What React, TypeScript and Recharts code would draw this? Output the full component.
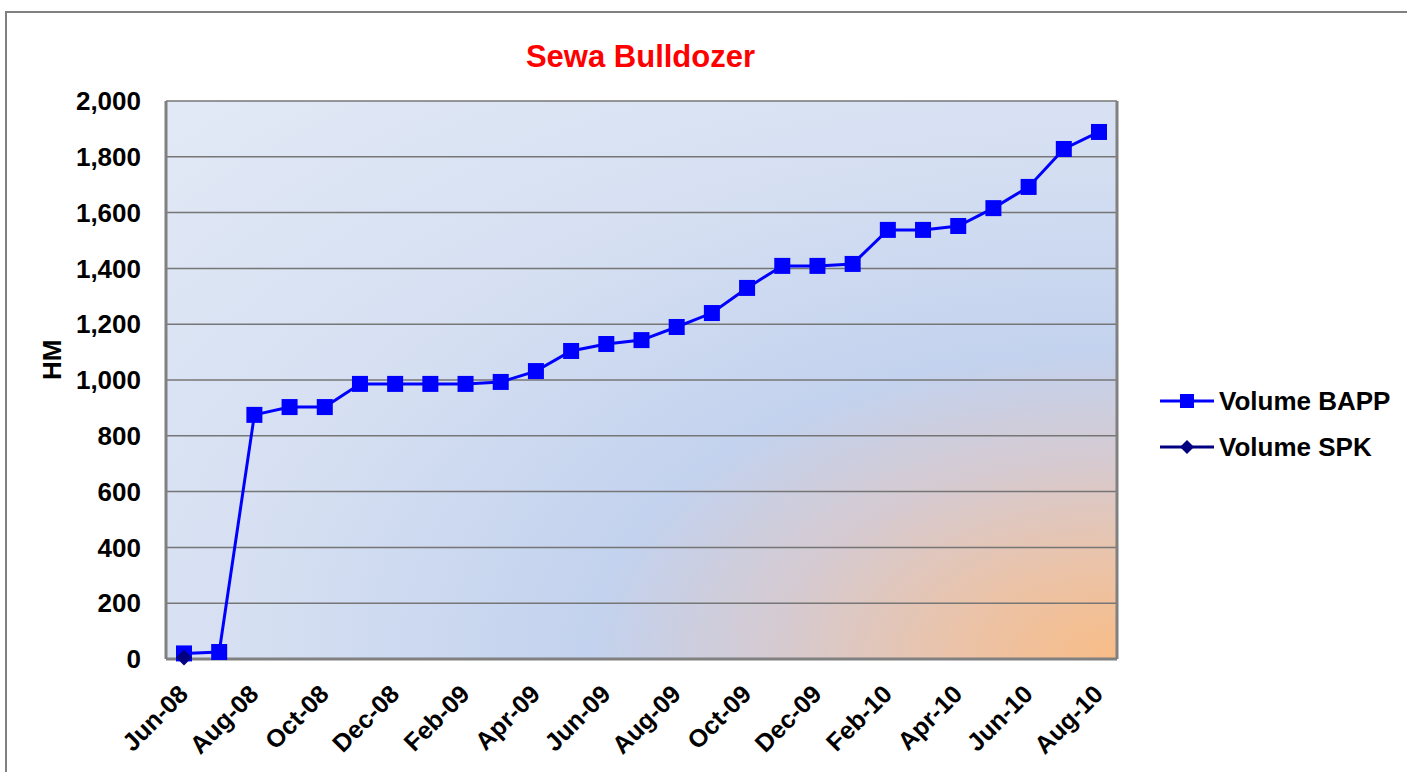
import React from "react";
import { LineChart, Line, XAxis, YAxis, CartesianGrid } from "recharts";

// ===== data =====
const months = [
  "Jun-08", "Jul-08", "Aug-08", "Sep-08", "Oct-08", "Nov-08", "Dec-08",
  "Jan-09", "Feb-09", "Mar-09", "Apr-09", "May-09", "Jun-09", "Jul-09",
  "Aug-09", "Sep-09", "Oct-09", "Nov-09", "Dec-09", "Jan-10", "Feb-10",
  "Mar-10", "Apr-10", "May-10", "Jun-10", "Jul-10", "Aug-10",
];

const volumeBapp = [
  20, 25, 875, 903, 903, 986, 986, 986, 986, 993, 1032, 1104, 1129, 1143,
  1190, 1240, 1330, 1409, 1409, 1416, 1538, 1538, 1552, 1616, 1692, 1828, 1889,
];

const volumeSpk: (number | null)[] = [
  5, null, null, null, null, null, null, null, null, null, null, null, null,
  null, null, null, null, null, null, null, null, null, null, null, null, null, null,
];

const yTicks = [0, 200, 400, 600, 800, 1000, 1200, 1400, 1600, 1800, 2000];

const seriesNames = ["Volume BAPP", "Volume SPK"];

// ===== helpers =====
const FONT = "'Liberation Sans', Arial, sans-serif";
const BLUE = "#0000ff";
const NAVY = "#000080";
const FRAME = "#808080";

const data = months.map((m, i) => ({
  month: m,
  bapp: volumeBapp[i],
  spk: volumeSpk[i],
}));

const SquareDot = (props: any) => {
  const { cx, cy, value, index } = props;
  if (value == null || cx == null) return <g key={`s${index}`} />;
  return (
    <rect key={`s${index}`} x={cx - 8} y={cy - 8} width={16} height={16} fill={BLUE} />
  );
};

const DiamondDot = (props: any) => {
  const { cx, cy, value, index } = props;
  if (value == null || cx == null) return <g key={`d${index}`} />;
  return (
    <polygon
      key={`d${index}`}
      points={`${cx},${cy - 8} ${cx + 8},${cy} ${cx},${cy + 8} ${cx - 8},${cy}`}
      fill={NAVY}
    />
  );
};

const XTick = (props: any) => {
  const { x, y, payload } = props;
  return (
    <text
      x={0}
      y={0}
      transform={`translate(${x + 1},${y + 30}) rotate(-45)`}
      textAnchor="end"
      dominantBaseline="middle"
      fontFamily={FONT}
      fontWeight="bold"
      fontSize={25}
      fill="#000"
    >
      {payload.value}
    </text>
  );
};

const LegendBox = () => (
  <div
    style={{
      position: "absolute",
      left: 1158,
      top: 378,
      fontFamily: FONT,
      fontWeight: "bold",
      fontSize: 26,
    }}
  >
    {seriesNames.map((name, i) => (
      <div key={name} style={{ display: "flex", alignItems: "center", height: 46 }}>
        <svg width={58} height={20}>
          <line x1={2} x2={56} y1={10} y2={10} stroke={i === 0 ? BLUE : NAVY} strokeWidth={3} />
          {i === 0 ? (
            <rect x={22} y={3} width={14} height={14} fill={BLUE} />
          ) : (
            <polygon points="29,3 36,10 29,17 22,10" fill={NAVY} />
          )}
        </svg>
        <span style={{ marginLeft: 3 }}>{name}</span>
      </div>
    ))}
  </div>
);

// ===== component =====
export default function App() {
  return (
    <div
      style={{
        position: "absolute",
        left: 0,
        top: 0,
        width: 1407,
        height: 772,
        overflow: "hidden",
        background: "#fff",
      }}
    >
      <div
        style={{
          position: "absolute",
          left: 5,
          top: 11,
          width: 1420,
          height: 780,
          borderTop: `2px solid ${FRAME}`,
          borderLeft: `2px solid ${FRAME}`,
        }}
      />
      <div
        style={{
          position: "absolute",
          left: 0,
          width: 1281,
          top: 39,
          textAlign: "center",
          fontFamily: FONT,
          fontWeight: "bold",
          fontSize: 31,
          color: "#ff0000",
        }}
      >
        Sewa Bulldozer
      </div>
      <div style={{ position: "absolute", left: 0, top: 0 }}>
        <LineChart
          width={1407}
          height={772}
          data={data}
          margin={{ top: 101, right: 289, left: 0, bottom: 0 }}
        >
          <defs>
            <radialGradient id="plotBg" cx="1" cy="1" r="1.414">
              <stop offset="0%" stopColor="#f8bc86" />
              <stop offset="12%" stopColor="#ebc3a8" />
              <stop offset="25%" stopColor="#d6cad0" />
              <stop offset="39%" stopColor="#c3d2ee" />
              <stop offset="66%" stopColor="#d6e0f2" />
              <stop offset="100%" stopColor="#e2e9f6" />
            </radialGradient>
          </defs>
          <CartesianGrid vertical={false} fill="url(#plotBg)" stroke="#767676" strokeWidth={1.5} />
          <XAxis
            dataKey="month"
            interval={1}
            padding={{ left: 18, right: 18 }}
            height={113}
            tick={<XTick />}
            tickLine={false}
            tickSize={0}
            axisLine={{ stroke: FRAME, strokeWidth: 3 }}
          />
          <XAxis
            xAxisId="top"
            dataKey="month"
            orientation="top"
            height={0}
            tick={false}
            tickLine={false}
            axisLine={{ stroke: FRAME, strokeWidth: 3 }}
          />
          <YAxis
            domain={[0, 2000]}
            ticks={yTicks}
            width={166}
            tickSize={0}
            tickMargin={25}
            tickLine={false}
            axisLine={{ stroke: FRAME, strokeWidth: 3 }}
            tickFormatter={(v) => Number(v).toLocaleString("en-US")}
            tick={{ fill: "#000", fontFamily: FONT, fontWeight: "bold", fontSize: 26 }}
            label={{
              value: "HM",
              angle: -90,
              position: "insideLeft",
              offset: 52,
              style: { fill: "#000", fontFamily: FONT, fontWeight: "bold", fontSize: 26 },
            }}
          />
          <YAxis
            yAxisId="right"
            orientation="right"
            domain={[0, 2000]}
            ticks={yTicks}
            width={1}
            tick={false}
            tickLine={false}
            axisLine={{ stroke: FRAME, strokeWidth: 3 }}
          />
          <Line
            dataKey="bapp"
            stroke={BLUE}
            strokeWidth={3}
            dot={<SquareDot />}
            activeDot={false}
            isAnimationActive={false}
          />
          <Line
            yAxisId="right"
            dataKey="spk"
            stroke={NAVY}
            strokeWidth={3}
            dot={<DiamondDot />}
            activeDot={false}
            isAnimationActive={false}
          />
        </LineChart>
      </div>
      <LegendBox />
    </div>
  );
}
